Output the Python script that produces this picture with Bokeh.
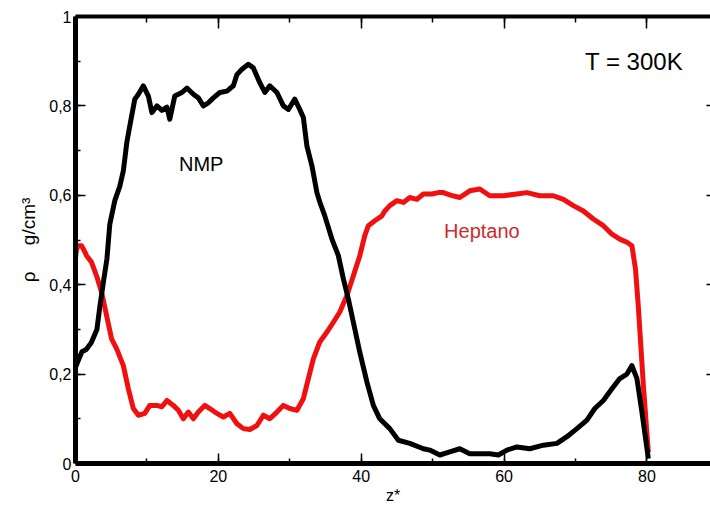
from bokeh.plotting import figure
from bokeh.models import (LinearAxis, SingleIntervalTicker, CustomJSTickFormatter, Range1d, Label)
from bokeh.embed import file_html
from bokeh.resources import INLINE

# NMP density profile (black)
nmp_z = [0.0, 0.5, 0.9, 1.5, 2.2, 3.0, 3.4, 3.9, 4.4, 4.8, 5.5, 6.2, 6.7, 7.2, 7.6, 8.3, 8.8, 9.5,
         10.2, 10.7, 11.4, 12.1, 12.8, 13.2, 13.9, 14.9, 15.6, 16.5, 17.2, 17.9, 18.6, 19.3, 20.2,
         21.2, 22.1, 22.6, 23.3, 24.2, 24.9, 25.8, 26.5, 27.2, 28.2, 29.1, 29.8, 30.7, 31.4, 31.9,
         32.4, 33.1, 33.8, 34.2, 34.9, 35.9, 36.8, 37.5, 38.2, 38.9, 39.8, 40.8, 41.7, 42.6, 44.0,
         45.2, 46.8, 48.7, 49.6, 51.0, 52.4, 53.8, 55.2, 56.6, 58.0, 59.2, 60.4, 61.8, 63.6, 65.5,
         67.4, 68.8, 70.2, 71.6, 72.7, 73.9, 75.1, 76.2, 77.2, 77.9, 78.6, 79.3, 80.2]
nmp_rho = [0.215, 0.235, 0.25, 0.255, 0.27, 0.30, 0.35, 0.405, 0.458, 0.535, 0.588, 0.62, 0.655,
           0.72, 0.755, 0.815, 0.826, 0.845, 0.822, 0.785, 0.80, 0.79, 0.797, 0.77, 0.822, 0.83,
           0.84, 0.826, 0.818, 0.80, 0.807, 0.818, 0.83, 0.833, 0.845, 0.87, 0.882, 0.893, 0.885,
           0.852, 0.83, 0.845, 0.83, 0.80, 0.792, 0.815, 0.792, 0.774, 0.71, 0.666, 0.606, 0.585,
           0.554, 0.502, 0.465, 0.413, 0.368, 0.316, 0.249, 0.182, 0.130, 0.100, 0.078, 0.052,
           0.045, 0.033, 0.030, 0.019, 0.026, 0.033, 0.022, 0.022, 0.022, 0.019, 0.030, 0.037,
           0.033, 0.041, 0.045, 0.060, 0.078, 0.097, 0.123, 0.141, 0.167, 0.19, 0.20, 0.219,
           0.19, 0.115, 0.011]

# Heptano density profile (red)
hep_z = [0.0, 0.15, 0.4, 0.85, 1.1, 1.55, 2.25, 2.95, 3.65, 4.35, 5.05, 5.75, 6.7, 7.4, 8.1, 8.8,
         9.7, 10.4, 11.4, 12.1, 12.8, 13.7, 14.4, 15.1, 15.8, 16.5, 17.2, 18.1, 18.8, 19.8, 20.7,
         21.6, 22.6, 23.5, 24.4, 25.4, 26.3, 27.2, 28.2, 29.1, 30.0, 31.0, 31.9, 32.6, 33.3, 34.2,
         35.2, 36.1, 37.0, 38.0, 38.9, 39.8, 40.5, 41.0, 41.9, 42.9, 43.3, 44.0, 45.0, 45.9, 46.8,
         47.8, 48.7, 49.9, 50.8, 51.5, 52.6, 53.8, 55.2, 56.6, 58.0, 59.9, 61.8, 63.2, 65.0, 66.9,
         68.3, 69.7, 71.1, 72.5, 73.9, 75.1, 76.2, 77.2, 77.9, 78.4, 78.8, 79.0, 79.5, 80.2]
hep_rho = [0.46, 0.48, 0.487, 0.487, 0.48, 0.465, 0.45, 0.42, 0.383, 0.331, 0.279, 0.257, 0.219,
           0.167, 0.123, 0.108, 0.112, 0.130, 0.130, 0.127, 0.141, 0.130, 0.119, 0.100, 0.115,
           0.100, 0.115, 0.130, 0.123, 0.112, 0.104, 0.112, 0.089, 0.078, 0.076, 0.085, 0.108,
           0.100, 0.115, 0.130, 0.123, 0.119, 0.145, 0.19, 0.234, 0.272, 0.294, 0.316, 0.339,
           0.376, 0.42, 0.465, 0.51, 0.532, 0.543, 0.554, 0.565, 0.577, 0.588, 0.584, 0.595,
           0.591, 0.603, 0.603, 0.606, 0.606, 0.600, 0.595, 0.61, 0.614, 0.599, 0.599, 0.603,
           0.606, 0.599, 0.599, 0.591, 0.577, 0.565, 0.547, 0.532, 0.513, 0.502, 0.495, 0.487,
           0.435, 0.35, 0.30, 0.175, 0.025]

FONT = "Liberation Sans"

p = figure(width=710, height=506, output_backend="svg", toolbar_location=None,
           x_range=Range1d(0, 88.9), y_range=Range1d(0, 1),
           min_border_left=75, min_border_right=0, min_border_top=16, min_border_bottom=42,
           x_axis_location=None, y_axis_location=None)
p.outline_line_color = None
p.grid.visible = False
p.background_fill_color = "white"
p.border_fill_color = "white"

fmt = CustomJSTickFormatter(code="""
var s = tick.toFixed(1).replace('.', ',');
if (s.endsWith(',0')) { s = s.slice(0, -2); }
return s;
""")
blank = CustomJSTickFormatter(code="return '';")

def style(ax, show_labels=True, line_w=5, tin=10, minin=5):
    ax.axis_line_width = line_w
    ax.axis_line_color = "black"
    ax.major_tick_in = tin
    ax.major_tick_out = 0
    ax.minor_tick_in = minin
    ax.minor_tick_out = 0
    ax.major_tick_line_width = 1.5
    ax.minor_tick_line_width = 1.5
    ax.major_label_text_font = FONT
    ax.major_label_text_color = "black"
    ax.major_label_text_font_size = "16px"
    if not show_labels:
        ax.formatter = blank
        ax.major_label_standoff = 0

xb = LinearAxis(ticker=SingleIntervalTicker(interval=20, num_minor_ticks=2), formatter=fmt,
                axis_label="z*")
style(xb)
xb.major_label_standoff = 6
xb.axis_label_text_font = FONT
xb.axis_label_text_font_size = "16px"
xb.axis_label_text_font_style = "normal"
xb.axis_label_text_color = "black"
xb.axis_label_standoff = 2
p.add_layout(xb, "below")

yl = LinearAxis(ticker=SingleIntervalTicker(interval=0.2, num_minor_ticks=2), formatter=fmt,
                axis_label="ρ\u00a0\u00a0\u00a0\u00a0\u00a0g/cm³")
style(yl)
yl.major_label_standoff = 4
yl.axis_label_text_font = FONT
yl.axis_label_text_font_size = "19px"
yl.axis_label_text_font_style = "normal"
yl.axis_label_text_color = "black"
yl.axis_label_standoff = 7
p.add_layout(yl, "left")

xt = LinearAxis(ticker=SingleIntervalTicker(interval=20, num_minor_ticks=2))
style(xt, show_labels=False, line_w=4, tin=12, minin=6)
p.add_layout(xt, "above")

yr = LinearAxis(ticker=SingleIntervalTicker(interval=0.2, num_minor_ticks=2))
style(yr, show_labels=False, line_w=0, tin=4, minin=0)
yr.axis_line_color = None
p.add_layout(yr, "right")

p.line(hep_z, hep_rho, line_color="#f01010", line_width=5, line_join="round")
p.line(nmp_z, nmp_rho, line_color="black", line_width=5, line_join="round")

p.add_layout(Label(x=78.2, y=0.90, text="T = 300K", text_align="center", text_baseline="middle",
                   text_font=FONT, text_font_size="24px", text_color="black"))
p.add_layout(Label(x=17.6, y=0.671, text="NMP", text_align="center", text_baseline="middle",
                   text_font=FONT, text_font_size="20px", text_color="black"))
p.add_layout(Label(x=56.9, y=0.52, text="Heptano", text_align="center", text_baseline="middle",
                   text_font=FONT, text_font_size="20px", text_color="#cc2a2a"))

open("out.html", "w").write(file_html(p, INLINE))
